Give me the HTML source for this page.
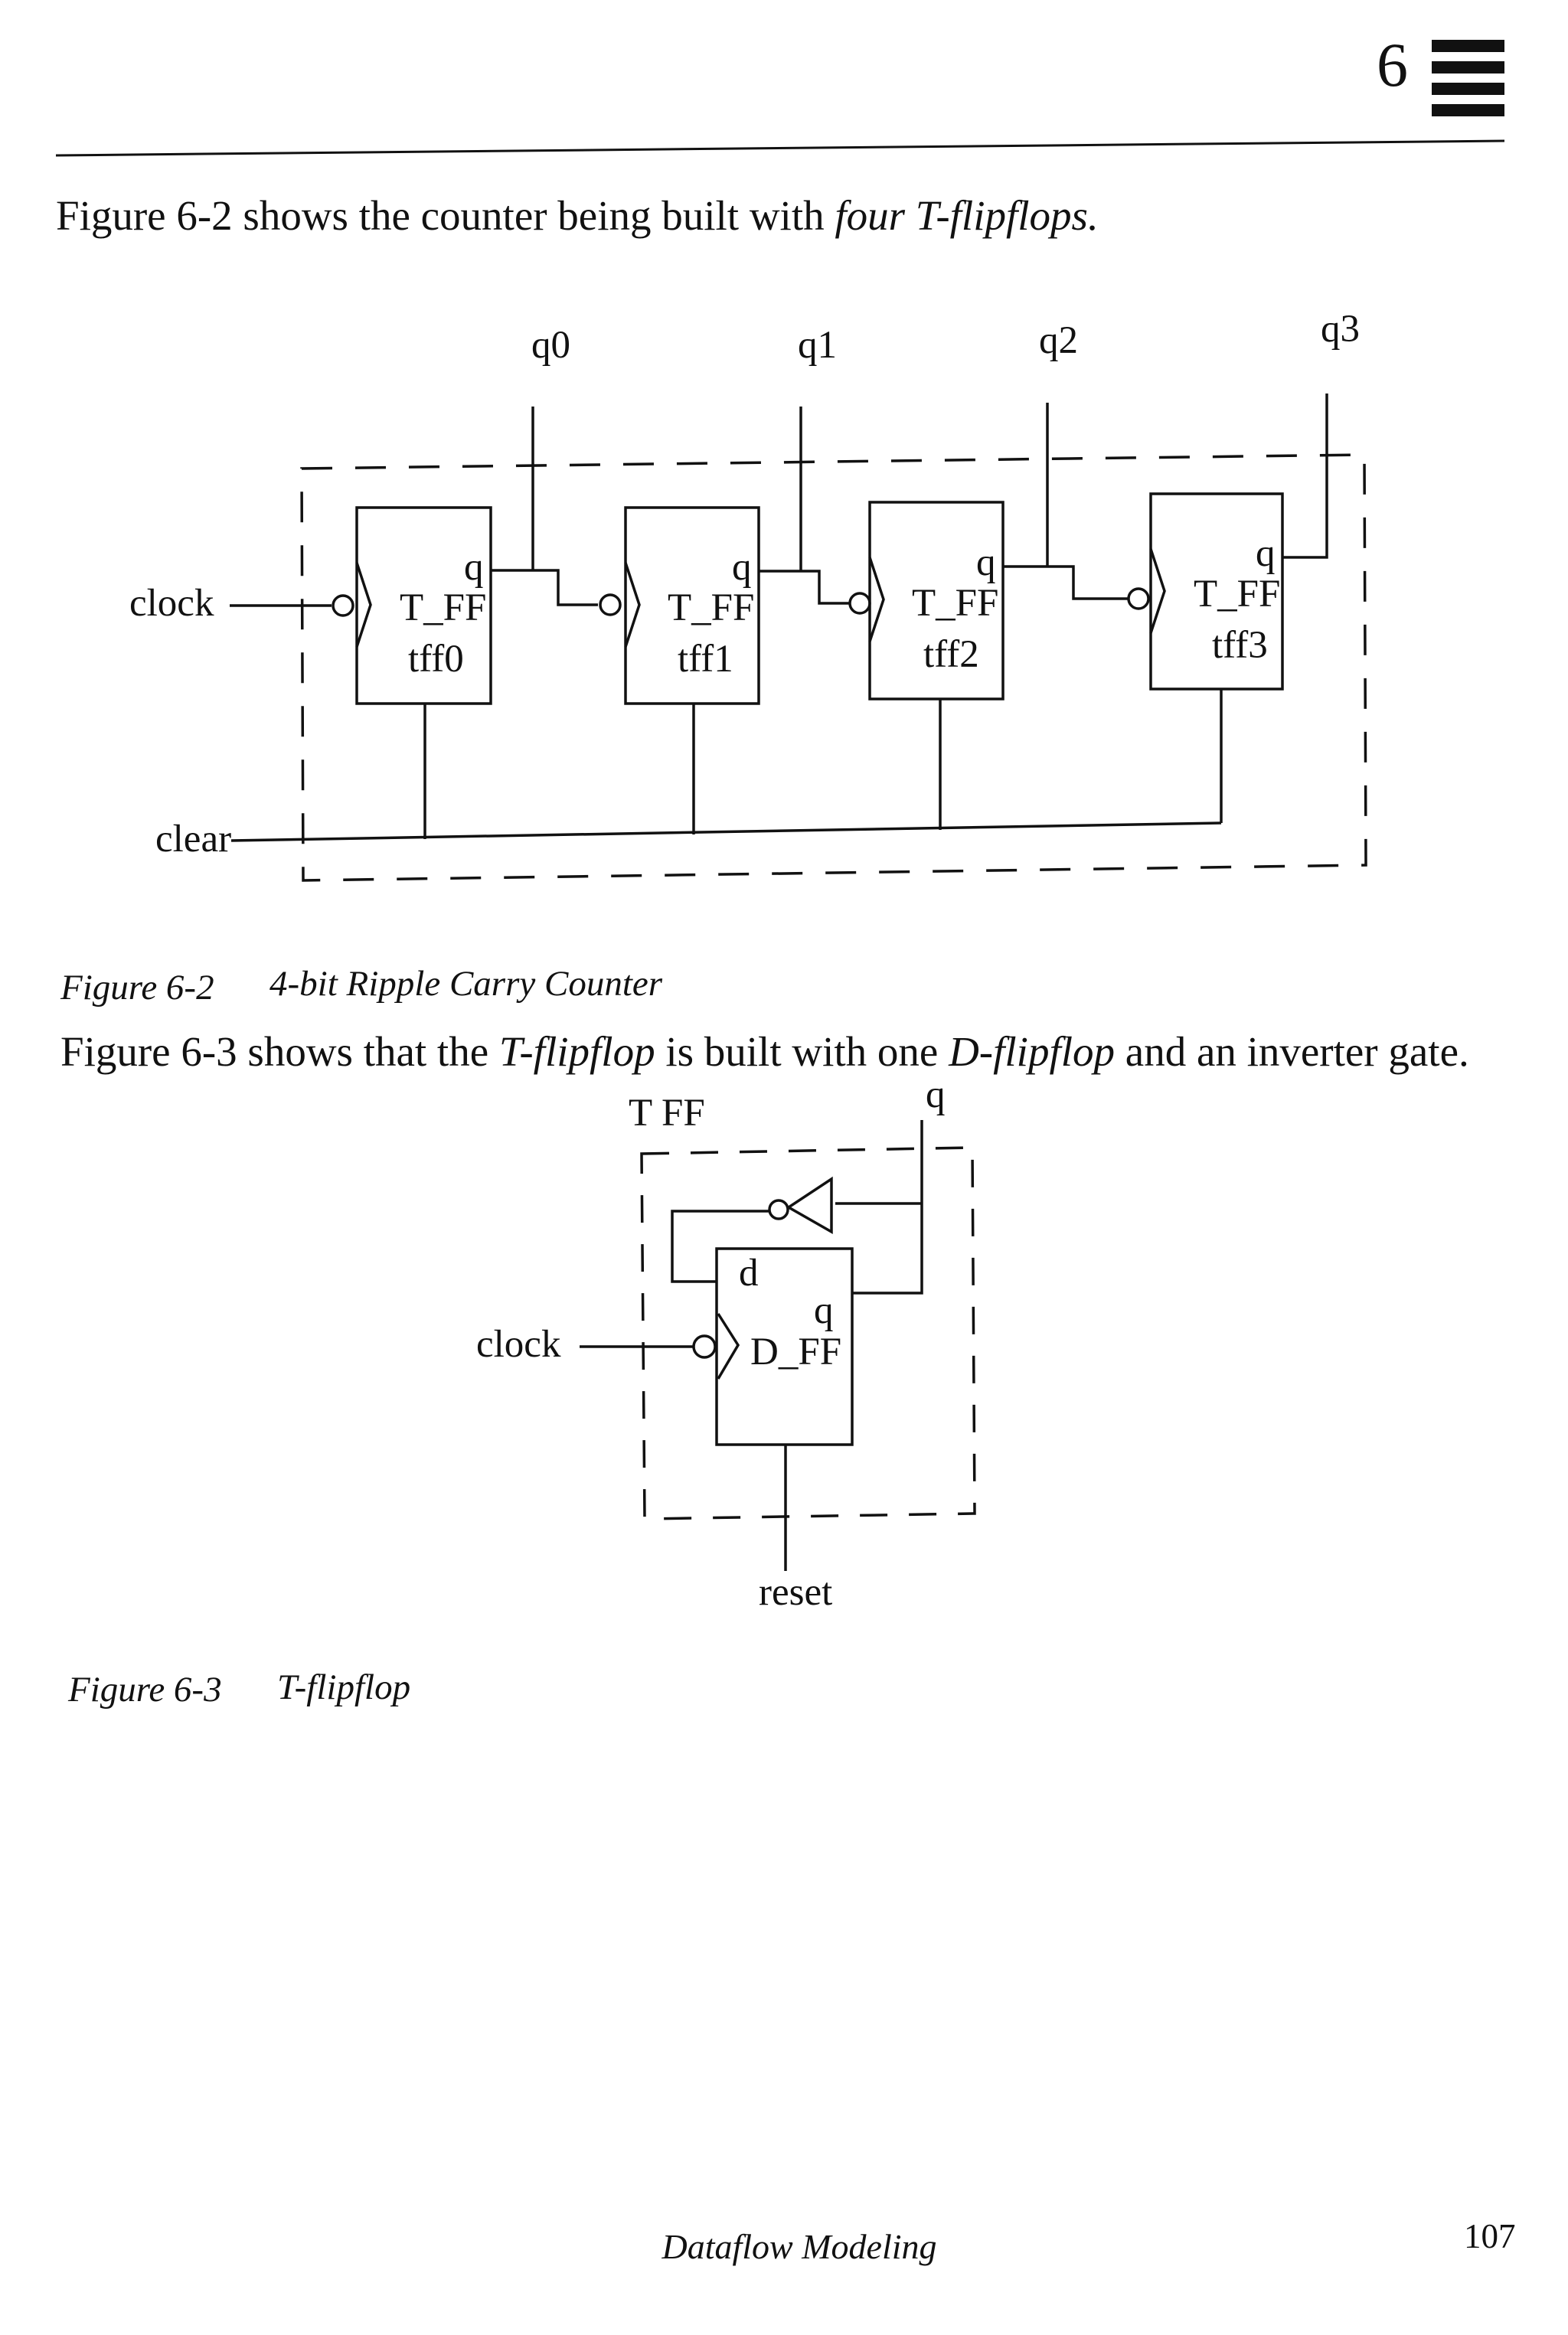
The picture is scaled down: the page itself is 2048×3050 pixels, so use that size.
<!DOCTYPE html>
<html><head><meta charset="utf-8"><style>
html,body{margin:0;padding:0;background:#fff}
svg{display:block}
text{font-family:"Liberation Serif",serif;fill:#111}
</style></head><body>
<svg width="2048" height="3050" viewBox="0 0 2048 3050" xmlns="http://www.w3.org/2000/svg">
<g stroke="#111" fill="none" stroke-width="3">
<line x1="73" y1="203" x2="1965" y2="184" stroke-width="3"/>
</g>
<text x="1798" y="112" font-size="82">6</text>
<g fill="#111">
<rect x="1870" y="52" width="95" height="16"/>
<rect x="1870" y="80" width="95" height="16"/>
<rect x="1870" y="108" width="95" height="16"/>
<rect x="1870" y="136" width="95" height="16"/>
</g>
<text x="73" y="300" font-size="55">Figure 6-2 shows the counter being built with <tspan font-style="italic">four T-flipflops.</tspan></text>

<!-- Figure 6-2 -->
<g stroke="#111" fill="none" stroke-width="3.5">
<path d="M394 612 L1782 594 L1784 1130 L396 1150 Z" stroke-dasharray="40 30"/>
<rect x="466" y="663" width="175" height="256"/>
<rect x="817" y="663" width="174" height="256"/>
<rect x="1136" y="656" width="174" height="257"/>
<rect x="1503" y="645" width="172" height="255"/>
<path d="M466 735 L484 790 L466 845"/>
<path d="M817 735 L835 790 L817 845"/>
<path d="M1136 728 L1154 783 L1136 838"/>
<path d="M1503 717 L1521 772 L1503 827"/>
<line x1="300" y1="791" x2="433" y2="791"/>
<circle cx="448" cy="791" r="13"/>
<path d="M641 745 L729 745 L729 790 L781 790"/>
<circle cx="797" cy="790" r="13"/>
<line x1="696" y1="531" x2="696" y2="745"/>
<path d="M991 746 L1070 746 L1070 788 L1110 788"/>
<circle cx="1123" cy="788" r="13"/>
<line x1="1046" y1="531" x2="1046" y2="746"/>
<path d="M1310 740 L1402 740 L1402 782 L1473 782"/>
<circle cx="1487" cy="782" r="13"/>
<line x1="1368" y1="526" x2="1368" y2="740"/>
<path d="M1675 728 L1733 728 L1733 514"/>
<line x1="302" y1="1098" x2="1595" y2="1075"/>
<line x1="555" y1="919" x2="555" y2="1096"/>
<line x1="906" y1="919" x2="906" y2="1090"/>
<line x1="1228" y1="913" x2="1228" y2="1084"/>
<line x1="1595" y1="900" x2="1595" y2="1075"/>
</g>
<g font-size="51">
<text x="169" y="804">clock</text>
<text x="203" y="1112">clear</text>
<text x="694" y="467">q0</text>
<text x="1042" y="467">q1</text>
<text x="1357" y="461">q2</text>
<text x="1725" y="446">q3</text>
<text x="606" y="757">q</text><text x="522" y="810">T_FF</text><text x="533" y="877">tff0</text>
<text x="956" y="757">q</text><text x="872" y="810">T_FF</text><text x="885" y="877">tff1</text>
<text x="1275" y="751">q</text><text x="1191" y="804">T_FF</text><text x="1206" y="871">tff2</text>
<text x="1640" y="739">q</text><text x="1559" y="792">T_FF</text><text x="1583" y="859">tff3</text>
</g>
<text x="79" y="1305" font-size="47" font-style="italic">Figure 6-2</text>
<text x="352" y="1300" font-size="47" font-style="italic">4-bit Ripple Carry Counter</text>
<text x="79" y="1392" font-size="55">Figure 6-3 shows that the <tspan font-style="italic">T-flipflop</tspan> is built with one <tspan font-style="italic">D-flipflop</tspan> and an inverter gate.</text>

<!-- Figure 6-3 -->
<g stroke="#111" fill="none" stroke-width="3.5">
<path d="M838 1507 L1270 1499 L1273 1977 L842 1984 Z" stroke-dasharray="36 28"/>
<rect x="936" y="1631" width="177" height="256"/>
<path d="M938 1716 L964 1757 L938 1801"/>
<line x1="757" y1="1759" x2="906" y2="1759"/>
<circle cx="920" cy="1759" r="14"/>
<path d="M1113 1689 L1204 1689 L1204 1463"/>
<line x1="1091" y1="1572" x2="1204" y2="1572"/>
<path d="M1086 1540 L1086 1609 L1030 1577 Z"/>
<circle cx="1017" cy="1580" r="12"/>
<path d="M1005 1582 L878 1582 L878 1674 L936 1674"/>
<line x1="1026" y1="1887" x2="1026" y2="2052"/>
</g>
<g font-size="51">
<text x="821" y="1470">T FF</text>
<text x="1209" y="1446">q</text>
<text x="622" y="1772">clock</text>
<text x="965" y="1679">d</text>
<text x="1063" y="1728">q</text>
<text x="980" y="1782">D_FF</text>
<text x="991" y="2096">reset</text>
</g>
<text x="89" y="2222" font-size="47" font-style="italic">Figure 6-3</text>
<text x="362" y="2219" font-size="47" font-style="italic">T-flipflop</text>

<text x="1044" y="2950" font-size="46" font-style="italic" text-anchor="middle">Dataflow Modeling</text>
<text x="1912" y="2936" font-size="45">107</text>
</svg>
</body></html>
